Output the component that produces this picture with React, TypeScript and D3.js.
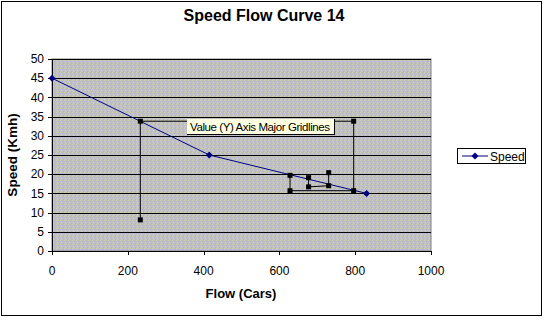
import React from "react";
import * as d3 from "d3";

const title = "Speed Flow Curve 14";
const xTitle = "Flow (Cars)";
const yTitle = "Speed (Kmh)";
const seriesName = "Speed";
const flow = [0, 415, 830];
const speed = [45, 25, 15];
const xTicks = [0, 200, 400, 600, 800, 1000];
const yTicks = [0, 5, 10, 15, 20, 25, 30, 35, 40, 45, 50];
// selection-handle outlines (Excel selection artifact), data coordinates
const selAFlow = [233, 233, 796, 796, 628, 628];
const selASpeed = [8.1, 33.8, 33.8, 15.7, 15.7, 19.7];
const selBFlow = [677, 677, 730, 730];
const selBSpeed = [19.1, 16.7, 17.0, 20.4];
const tooltipText = "Value (Y) Axis Major Gridlines";

const W = 545;
const H = 322;
const font = "'Liberation Sans', Arial, sans-serif";

export default function App() {
  const x = d3.scaleLinear().domain([0, 1000]).range([52, 431]);
  const y = d3.scaleLinear().domain([0, 50]).range([251, 59]);
  const line = d3
    .line<number>()
    .x((_, i) => x(flow[i]))
    .y((d) => y(d));
  const selLine = d3
    .line<[number, number]>()
    .x((d) => x(d[0]))
    .y((d) => y(d[1]));
  const selA: [number, number][] = selAFlow.map((f, i) => [f, selASpeed[i]]);
  const selB: [number, number][] = selBFlow.map((f, i) => [f, selBSpeed[i]]);
  const diamond = (cx: number, cy: number, r = 3.5) =>
    `M${cx},${cy - r}L${cx + r},${cy}L${cx},${cy + r}L${cx - r},${cy}Z`;

  const [x0, x1] = x.range();
  const [y0, y1] = y.range();

  return (
    <svg
      width={W}
      height={H}
      style={{ position: "absolute", left: 0, top: 0, background: "#fff" }}
      fontFamily={font}
    >
      <defs>
        <pattern id="dither" width="4" height="4" patternUnits="userSpaceOnUse">
          <rect width="4" height="4" fill="#c0c0c0" />
          <rect x="0" y="0" width="1" height="1" fill="#d2d2a6" />
          <rect x="2" y="1" width="1" height="1" fill="#b2b2e2" />
          <rect x="1" y="2" width="1" height="1" fill="#d2d2a6" />
          <rect x="3" y="3" width="1" height="1" fill="#b2b2e2" />
          <rect x="3" y="0" width="1" height="1" fill="#b8b8d8" />
          <rect x="1" y="3" width="1" height="1" fill="#c8c8b4" />
        </pattern>
      </defs>
      <rect x={1.5} y={1.5} width={540} height={314} fill="#fff" stroke="#000" />
      <text x={264} y={21} textAnchor="middle" fontSize={16} fontWeight="bold">
        {title}
      </text>
      {/* plot area */}
      <rect x={x0} y={y1} width={x1 - x0} height={y0 - y1} fill="url(#dither)" stroke="#808080" />
      {yTicks
        .filter((t) => t > 0)
        .map((t) => (
          <line key={t} x1={x0} x2={x1} y1={Math.round(y(t)) + 0.5} y2={Math.round(y(t)) + 0.5} stroke="#000" />
        ))}
      {/* axes */}
      <line x1={x0 + 0.5} x2={x0 + 0.5} y1={y1} y2={y0} stroke="#000" />
      <line x1={x0} x2={x1} y1={Math.round(y0) + 0.5} y2={Math.round(y0) + 0.5} stroke="#000" />
      {yTicks.map((t) => (
        <g key={t}>
          <line x1={x0 - 4} x2={x0} y1={Math.round(y(t)) + 0.5} y2={Math.round(y(t)) + 0.5} stroke="#000" />
          <text x={44} y={y(t)} dy="0.35em" textAnchor="end" fontSize={12}>
            {t}
          </text>
        </g>
      ))}
      {xTicks.map((t) => (
        <g key={t}>
          <line x1={Math.round(x(t)) + 0.5} x2={Math.round(x(t)) + 0.5} y1={y0} y2={y0 + 4} stroke="#000" />
          <text x={x(t)} y={275} textAnchor="middle" fontSize={12}>
            {t}
          </text>
        </g>
      ))}
      <text x={241} y={298} textAnchor="middle" fontSize={13} fontWeight="bold">
        {xTitle}
      </text>
      <text
        transform={`translate(17,155) rotate(-90)`}
        textAnchor="middle"
        fontSize={13.5}
        fontWeight="bold"
      >
        {yTitle}
      </text>
      {/* series */}
      <path d={line(speed) || ""} fill="none" stroke="#000080" strokeWidth={1} />
      {speed.map((s, i) => (
        <path key={i} d={diamond(x(flow[i]), y(s))} fill="#000080" />
      ))}
      {/* selection outlines and handles */}
      <path d={selLine(selA) || ""} fill="none" stroke="#000" />
      <path d={selLine(selB) || ""} fill="none" stroke="#000" />
      {[...selA, ...selB].map((d, i) => (
        <rect key={i} x={x(d[0]) - 2.5} y={y(d[1]) - 2.5} width={5} height={5} fill="#000" />
      ))}
      {/* tooltip */}
      <rect x={187} y={119} width={147} height={15} fill="#ffffe1" />
      <line x1={334.5} x2={334.5} y1={119} y2={134} stroke="#000" />
      <line x1={187} x2={335} y1={134.5} y2={134.5} stroke="#000" />
      <text x={190} y={130.5} fontSize={11.5} textLength={140}>
        {tooltipText}
      </text>
      {/* legend */}
      <rect x={457.5} y={148.5} width={68} height={15} fill="#fff" stroke="#000" />
      <line x1={462} x2={488} y1={156} y2={156} stroke="#000080" />
      <path d={diamond(475, 156)} fill="#000080" />
      <text x={490} y={160.5} fontSize={12}>
        {seriesName}
      </text>
    </svg>
  );
}
